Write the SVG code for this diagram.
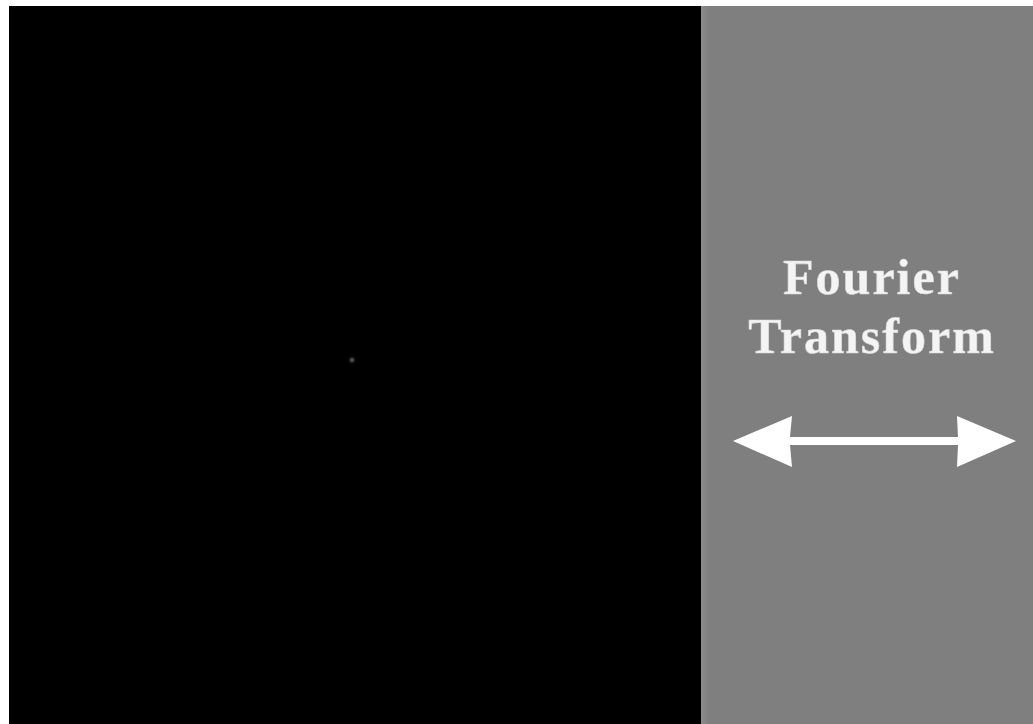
<svg xmlns="http://www.w3.org/2000/svg" width="1033" height="724" viewBox="0 0 1033 724">
<defs>
<style>
.lbl{font-family:"Liberation Serif","Times New Roman",serif;font-weight:bold;font-size:50px;fill:#f4f4f4;text-anchor:middle;letter-spacing:2px;stroke:#d8d8d8;stroke-width:0.6px}
</style>
<radialGradient id="dot"><stop offset="0" stop-color="#7a7a7a"/><stop offset="1" stop-color="#000" stop-opacity="0"/></radialGradient>
<linearGradient id="edge" x1="0" x2="1" y1="0" y2="0"><stop offset="0" stop-color="#8c8c8c"/><stop offset="1" stop-color="#7f7f7f"/></linearGradient>
</defs>
<rect x="0" y="0" width="1033" height="724" fill="#ffffff"/>
<g id="spatial">
<rect x="9" y="6" width="692" height="718" fill="#000000"/>
<circle cx="352" cy="360" r="5" fill="url(#dot)"/>
</g>
<g id="panel">
<rect x="701" y="6" width="332" height="718" fill="#7f7f7f"/>
<rect x="701" y="6" width="8" height="718" fill="url(#edge)"/>
</g>
<g id="label">
<text class="lbl" x="872" y="294">Fourier</text>
<text class="lbl" x="872" y="353">Transform</text>
</g>
<g id="connectors">
<path d="M733,441 L792,416 L790,437 L958,437 L957,416 L1016,441 L957,467 L958,445 L790,445 L792,467 Z" fill="#ffffff"/>
</g>
</svg>
